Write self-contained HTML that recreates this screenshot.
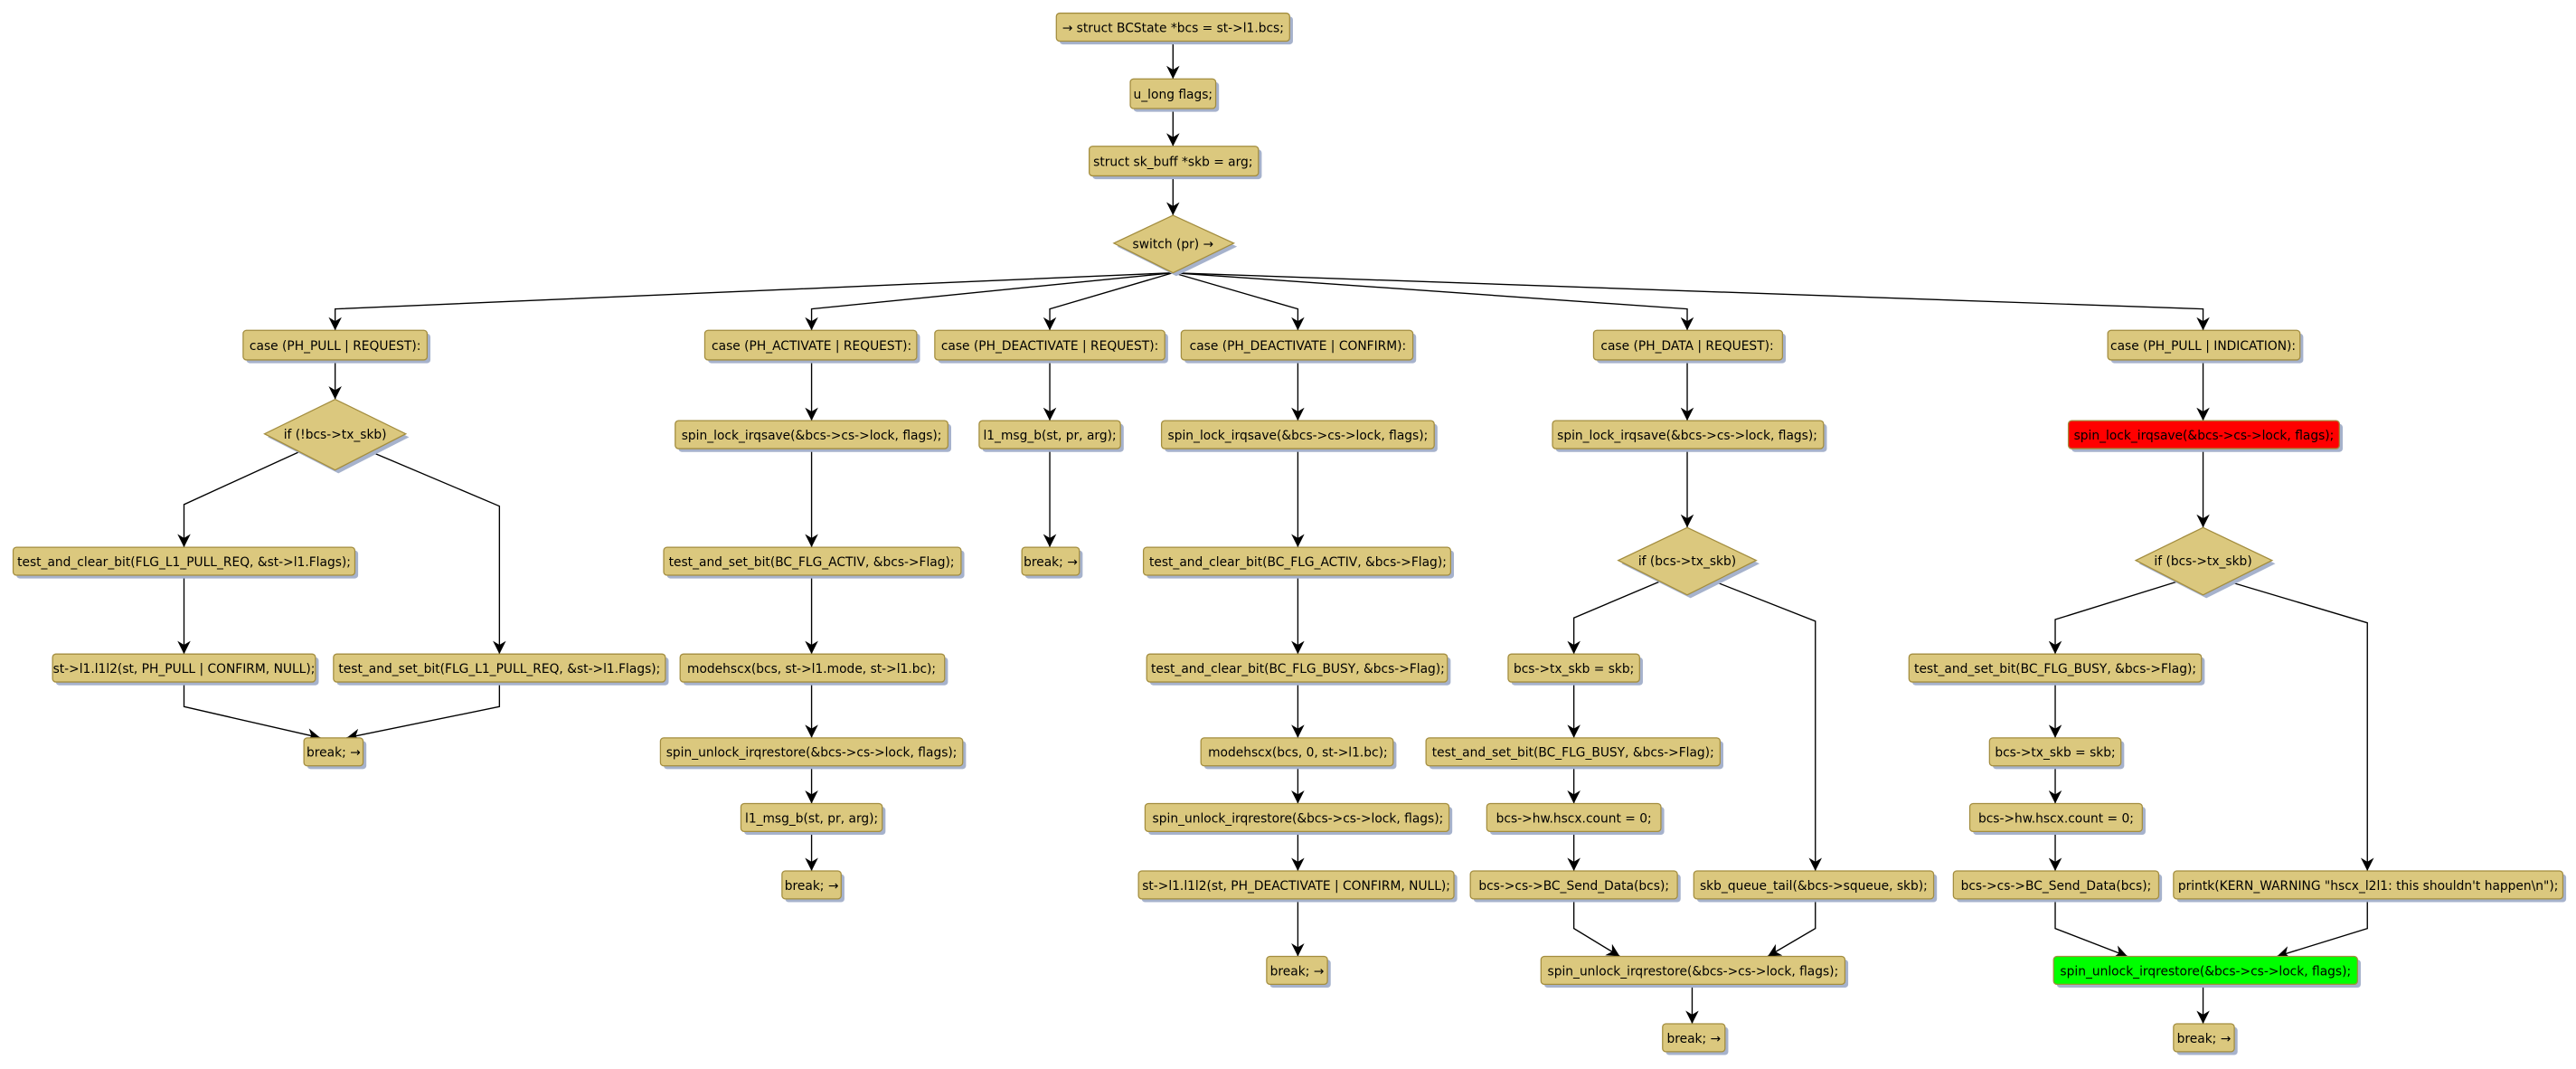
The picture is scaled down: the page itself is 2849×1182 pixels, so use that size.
<!DOCTYPE html>
<html><head><meta charset="utf-8"><style>
html,body{margin:0;padding:0;background:#fff;}
svg{display:block;}
text{font-family:"DejaVu Sans","Liberation Sans",sans-serif;font-size:7.6px;fill:#000;text-anchor:middle;}
.b{fill:#DBC87E;stroke:#A38D3F;stroke-width:0.7;}
.s{fill:#A6B2CC;}
.l{fill:none;stroke:#000;stroke-width:0.75;}
</style></head><body>
<svg width="2849" height="1182" viewBox="0 0 1568 650.5" xmlns="http://www.w3.org/2000/svg">
<defs><marker id="a" viewBox="0 0 10 10" refX="10" refY="5" markerWidth="8" markerHeight="8" orient="auto" markerUnits="userSpaceOnUse"><path d="M0,0 L10,5 L0,10 L3,5 z" fill="#000"/></marker></defs>

<g class="l" marker-end="url(#a)">
<path d="M714,25 V48"/>
<path d="M714,66 V89"/>
<path d="M714,107 V131"/>
<path d="M714,166 L204,188 V201"/>
<path d="M714,166 L494,188 V201"/>
<path d="M714,166 L639,188 V201"/>
<path d="M714,166 L790,188 V201"/>
<path d="M714,166 L1027,188 V201"/>
<path d="M714,166 L1341,188 V201"/>
<path d="M204,219 V243"/>
<path d="M182,275 L112,307 V333"/>
<path d="M226,275 L304,308 V398"/>
<path d="M112,350 V398"/>
<path d="M112,415 V430 L195,449"/>
<path d="M304,415 V430 L211,449"/>
<path d="M494,219 V256"/>
<path d="M494,273 V333"/>
<path d="M494,350 V398"/>
<path d="M494,415 V449"/>
<path d="M494,466 V489"/>
<path d="M494,506 V530"/>
<path d="M639,219 V256"/>
<path d="M639,273 V333"/>
<path d="M790,219 V256"/>
<path d="M790,273 V333"/>
<path d="M790,350 V398"/>
<path d="M790,415 V449"/>
<path d="M790,466 V489"/>
<path d="M790,506 V530"/>
<path d="M790,547 V582"/>
<path d="M1027,219 V256"/>
<path d="M1027,273 V321"/>
<path d="M1010,354 L958,376 V398"/>
<path d="M1044,354 L1105,378 V530"/>
<path d="M958,415 V449"/>
<path d="M958,466 V489"/>
<path d="M958,506 V530"/>
<path d="M958,547 V565 L986,582"/>
<path d="M1105,547 V565 L1076,582"/>
<path d="M1030,599 V623"/>
<path d="M1341,219 V256"/>
<path d="M1341,273 V321"/>
<path d="M1325,354 L1251,377 V398"/>
<path d="M1357,354 L1441,379 V530"/>
<path d="M1251,415 V449"/>
<path d="M1251,466 V489"/>
<path d="M1251,506 V530"/>
<path d="M1251,547 V565 L1295,582"/>
<path d="M1441,547 V565 L1386,582"/>
<path d="M1341,599 V623"/>
</g>

<g>
<polygon class="s" points="716,133 753,150 716,168 680,150"/>
<polygon class="b" points="714,131 751,148 714,166 678,148"/>
<text x="714" y="151">switch (pr) →</text>
<polygon class="s" points="206,245 249,266 206,288 163,266"/>
<polygon class="b" points="204,243 247,264 204,286 161,264"/>
<text x="204" y="267">if (!bcs-&gt;tx_skb)</text>
<polygon class="s" points="1029,323 1071,343 1029,364 987,343"/>
<polygon class="b" points="1027,321 1069,341 1027,362 985,341"/>
<text x="1027" y="344">if (bcs-&gt;tx_skb)</text>
<polygon class="s" points="1343,323 1385,343 1343,364 1302,343"/>
<polygon class="b" points="1341,321 1383,341 1341,362 1300,341"/>
<text x="1341" y="344">if (bcs-&gt;tx_skb)</text>
</g>

<g>
<rect class="s" x="645" y="10" width="142" height="17" rx="2"/><rect class="b" x="643" y="8" width="142" height="17" rx="2"/><text x="714" y="19.5">→ struct BCState *bcs = st-&gt;l1.bcs;</text>
<rect class="s" x="690" y="50" width="52" height="18" rx="2"/><rect class="b" x="688" y="48" width="52" height="18" rx="2"/><text x="714" y="60">u_long flags;</text>
<rect class="s" x="665" y="91" width="103" height="18" rx="2"/><rect class="b" x="663" y="89" width="103" height="18" rx="2"/><text x="714" y="101">struct sk_buff *skb = arg;</text>

<rect class="s" x="150" y="203" width="112" height="18" rx="2"/><rect class="b" x="148" y="201" width="112" height="18" rx="2"/><text x="204" y="213">case (PH_PULL | REQUEST):</text>
<rect class="s" x="431" y="203" width="129" height="18" rx="2"/><rect class="b" x="429" y="201" width="129" height="18" rx="2"/><text x="494" y="213">case (PH_ACTIVATE | REQUEST):</text>
<rect class="s" x="571" y="203" width="140" height="18" rx="2"/><rect class="b" x="569" y="201" width="140" height="18" rx="2"/><text x="639" y="213">case (PH_DEACTIVATE | REQUEST):</text>
<rect class="s" x="721" y="203" width="141" height="18" rx="2"/><rect class="b" x="719" y="201" width="141" height="18" rx="2"/><text x="790" y="213">case (PH_DEACTIVATE | CONFIRM):</text>
<rect class="s" x="972" y="203" width="115" height="18" rx="2"/><rect class="b" x="970" y="201" width="115" height="18" rx="2"/><text x="1027" y="213">case (PH_DATA | REQUEST):</text>
<rect class="s" x="1285" y="203" width="117" height="18" rx="2"/><rect class="b" x="1283" y="201" width="117" height="18" rx="2"/><text x="1341" y="213">case (PH_PULL | INDICATION):</text>

<rect class="s" x="10" y="335" width="208" height="17" rx="2"/><rect class="b" x="8" y="333" width="208" height="17" rx="2"/><text x="112" y="344.5">test_and_clear_bit(FLG_L1_PULL_REQ, &amp;st-&gt;l1.Flags);</text>
<rect class="s" x="34" y="400" width="160" height="17" rx="2"/><rect class="b" x="32" y="398" width="160" height="17" rx="2"/><text x="112" y="409.5">st-&gt;l1.l1l2(st, PH_PULL | CONFIRM, NULL);</text>
<rect class="s" x="205" y="400" width="202" height="17" rx="2"/><rect class="b" x="203" y="398" width="202" height="17" rx="2"/><text x="304" y="409.5">test_and_set_bit(FLG_L1_PULL_REQ, &amp;st-&gt;l1.Flags);</text>
<rect class="s" x="187" y="451" width="36" height="17" rx="2"/><rect class="b" x="185" y="449" width="36" height="17" rx="2"/><text x="203" y="460.5">break; →</text>

<rect class="s" x="413" y="258" width="166" height="17" rx="2"/><rect class="b" x="411" y="256" width="166" height="17" rx="2"/><text x="494" y="267.5">spin_lock_irqsave(&amp;bcs-&gt;cs-&gt;lock, flags);</text>
<rect class="s" x="406" y="335" width="181" height="17" rx="2"/><rect class="b" x="404" y="333" width="181" height="17" rx="2"/><text x="494" y="344.5">test_and_set_bit(BC_FLG_ACTIV, &amp;bcs-&gt;Flag);</text>
<rect class="s" x="416" y="400" width="161" height="17" rx="2"/><rect class="b" x="414" y="398" width="161" height="17" rx="2"/><text x="494" y="409.5">modehscx(bcs, st-&gt;l1.mode, st-&gt;l1.bc);</text>
<rect class="s" x="404" y="451" width="184" height="17" rx="2"/><rect class="b" x="402" y="449" width="184" height="17" rx="2"/><text x="494" y="460.5">spin_unlock_irqrestore(&amp;bcs-&gt;cs-&gt;lock, flags);</text>
<rect class="s" x="453" y="491" width="86" height="17" rx="2"/><rect class="b" x="451" y="489" width="86" height="17" rx="2"/><text x="494" y="500.5">l1_msg_b(st, pr, arg);</text>
<rect class="s" x="478" y="532" width="36" height="17" rx="2"/><rect class="b" x="476" y="530" width="36" height="17" rx="2"/><text x="494" y="541.5">break; →</text>

<rect class="s" x="598" y="258" width="86" height="17" rx="2"/><rect class="b" x="596" y="256" width="86" height="17" rx="2"/><text x="639" y="267.5">l1_msg_b(st, pr, arg);</text>
<rect class="s" x="624" y="335" width="35" height="17" rx="2"/><rect class="b" x="622" y="333" width="35" height="17" rx="2"/><text x="639.5" y="344.5">break; →</text>

<rect class="s" x="709" y="258" width="166" height="17" rx="2"/><rect class="b" x="707" y="256" width="166" height="17" rx="2"/><text x="790" y="267.5">spin_lock_irqsave(&amp;bcs-&gt;cs-&gt;lock, flags);</text>
<rect class="s" x="698" y="335" width="187" height="17" rx="2"/><rect class="b" x="696" y="333" width="187" height="17" rx="2"/><text x="790" y="344.5">test_and_clear_bit(BC_FLG_ACTIV, &amp;bcs-&gt;Flag);</text>
<rect class="s" x="700" y="400" width="183" height="17" rx="2"/><rect class="b" x="698" y="398" width="183" height="17" rx="2"/><text x="790" y="409.5">test_and_clear_bit(BC_FLG_BUSY, &amp;bcs-&gt;Flag);</text>
<rect class="s" x="733" y="451" width="117" height="17" rx="2"/><rect class="b" x="731" y="449" width="117" height="17" rx="2"/><text x="790" y="460.5">modehscx(bcs, 0, st-&gt;l1.bc);</text>
<rect class="s" x="699" y="491" width="185" height="17" rx="2"/><rect class="b" x="697" y="489" width="185" height="17" rx="2"/><text x="790" y="500.5">spin_unlock_irqrestore(&amp;bcs-&gt;cs-&gt;lock, flags);</text>
<rect class="s" x="695" y="532" width="192" height="17" rx="2"/><rect class="b" x="693" y="530" width="192" height="17" rx="2"/><text x="789" y="541.5">st-&gt;l1.l1l2(st, PH_DEACTIVATE | CONFIRM, NULL);</text>
<rect class="s" x="773" y="584" width="37" height="17" rx="2"/><rect class="b" x="771" y="582" width="37" height="17" rx="2"/><text x="789.5" y="593.5">break; →</text>

<rect class="s" x="947" y="258" width="165" height="17" rx="2"/><rect class="b" x="945" y="256" width="165" height="17" rx="2"/><text x="1027" y="267.5">spin_lock_irqsave(&amp;bcs-&gt;cs-&gt;lock, flags);</text>
<rect class="s" x="920" y="400" width="80" height="17" rx="2"/><rect class="b" x="918" y="398" width="80" height="17" rx="2"/><text x="958" y="409.5">bcs-&gt;tx_skb = skb;</text>
<rect class="s" x="870" y="451" width="179" height="17" rx="2"/><rect class="b" x="868" y="449" width="179" height="17" rx="2"/><text x="957.5" y="460.5">test_and_set_bit(BC_FLG_BUSY, &amp;bcs-&gt;Flag);</text>
<rect class="s" x="907" y="491" width="106" height="17" rx="2"/><rect class="b" x="905" y="489" width="106" height="17" rx="2"/><text x="958" y="500.5">bcs-&gt;hw.hscx.count = 0;</text>
<rect class="s" x="897" y="532" width="126" height="17" rx="2"/><rect class="b" x="895" y="530" width="126" height="17" rx="2"/><text x="958" y="541.5">bcs-&gt;cs-&gt;BC_Send_Data(bcs);</text>
<rect class="s" x="1033" y="532" width="146" height="17" rx="2"/><rect class="b" x="1031" y="530" width="146" height="17" rx="2"/><text x="1104" y="541.5">skb_queue_tail(&amp;bcs-&gt;squeue, skb);</text>
<rect class="s" x="940" y="584" width="185" height="17" rx="2"/><rect class="b" x="938" y="582" width="185" height="17" rx="2"/><text x="1030.5" y="593.5">spin_unlock_irqrestore(&amp;bcs-&gt;cs-&gt;lock, flags);</text>
<rect class="s" x="1014" y="625" width="38" height="17" rx="2"/><rect class="b" x="1012" y="623" width="38" height="17" rx="2"/><text x="1031" y="634.5">break; →</text>

<rect class="s" x="1261" y="258" width="165" height="17" rx="2"/><rect x="1259" y="256" width="165" height="17" rx="2" fill="#FF0000" stroke="#A38D3F" stroke-width="0.7"/><text x="1341.5" y="267.5">spin_lock_irqsave(&amp;bcs-&gt;cs-&gt;lock, flags);</text>
<rect class="s" x="1164" y="400" width="178" height="17" rx="2"/><rect class="b" x="1162" y="398" width="178" height="17" rx="2"/><text x="1251" y="409.5">test_and_set_bit(BC_FLG_BUSY, &amp;bcs-&gt;Flag);</text>
<rect class="s" x="1213" y="451" width="80" height="17" rx="2"/><rect class="b" x="1211" y="449" width="80" height="17" rx="2"/><text x="1251" y="460.5">bcs-&gt;tx_skb = skb;</text>
<rect class="s" x="1201" y="491" width="105" height="17" rx="2"/><rect class="b" x="1199" y="489" width="105" height="17" rx="2"/><text x="1251.5" y="500.5">bcs-&gt;hw.hscx.count = 0;</text>
<rect class="s" x="1191" y="532" width="125" height="17" rx="2"/><rect class="b" x="1189" y="530" width="125" height="17" rx="2"/><text x="1251.5" y="541.5">bcs-&gt;cs-&gt;BC_Send_Data(bcs);</text>
<rect class="s" x="1325" y="532" width="237" height="17" rx="2"/><rect class="b" x="1323" y="530" width="237" height="17" rx="2"/><text x="1441.5" y="541.5">printk(KERN_WARNING "hscx_l2l1: this shouldn't happen\n");</text>
<rect class="s" x="1252" y="584" width="185" height="17" rx="2"/><rect x="1250" y="582" width="185" height="17" rx="2" fill="#00FF00" stroke="#A38D3F" stroke-width="0.7"/><text x="1342.5" y="593.5">spin_unlock_irqrestore(&amp;bcs-&gt;cs-&gt;lock, flags);</text>
<rect class="s" x="1325" y="625" width="37" height="17" rx="2"/><rect class="b" x="1323" y="623" width="37" height="17" rx="2"/><text x="1341.5" y="634.5">break; →</text>
</g>
</svg>
</body></html>
